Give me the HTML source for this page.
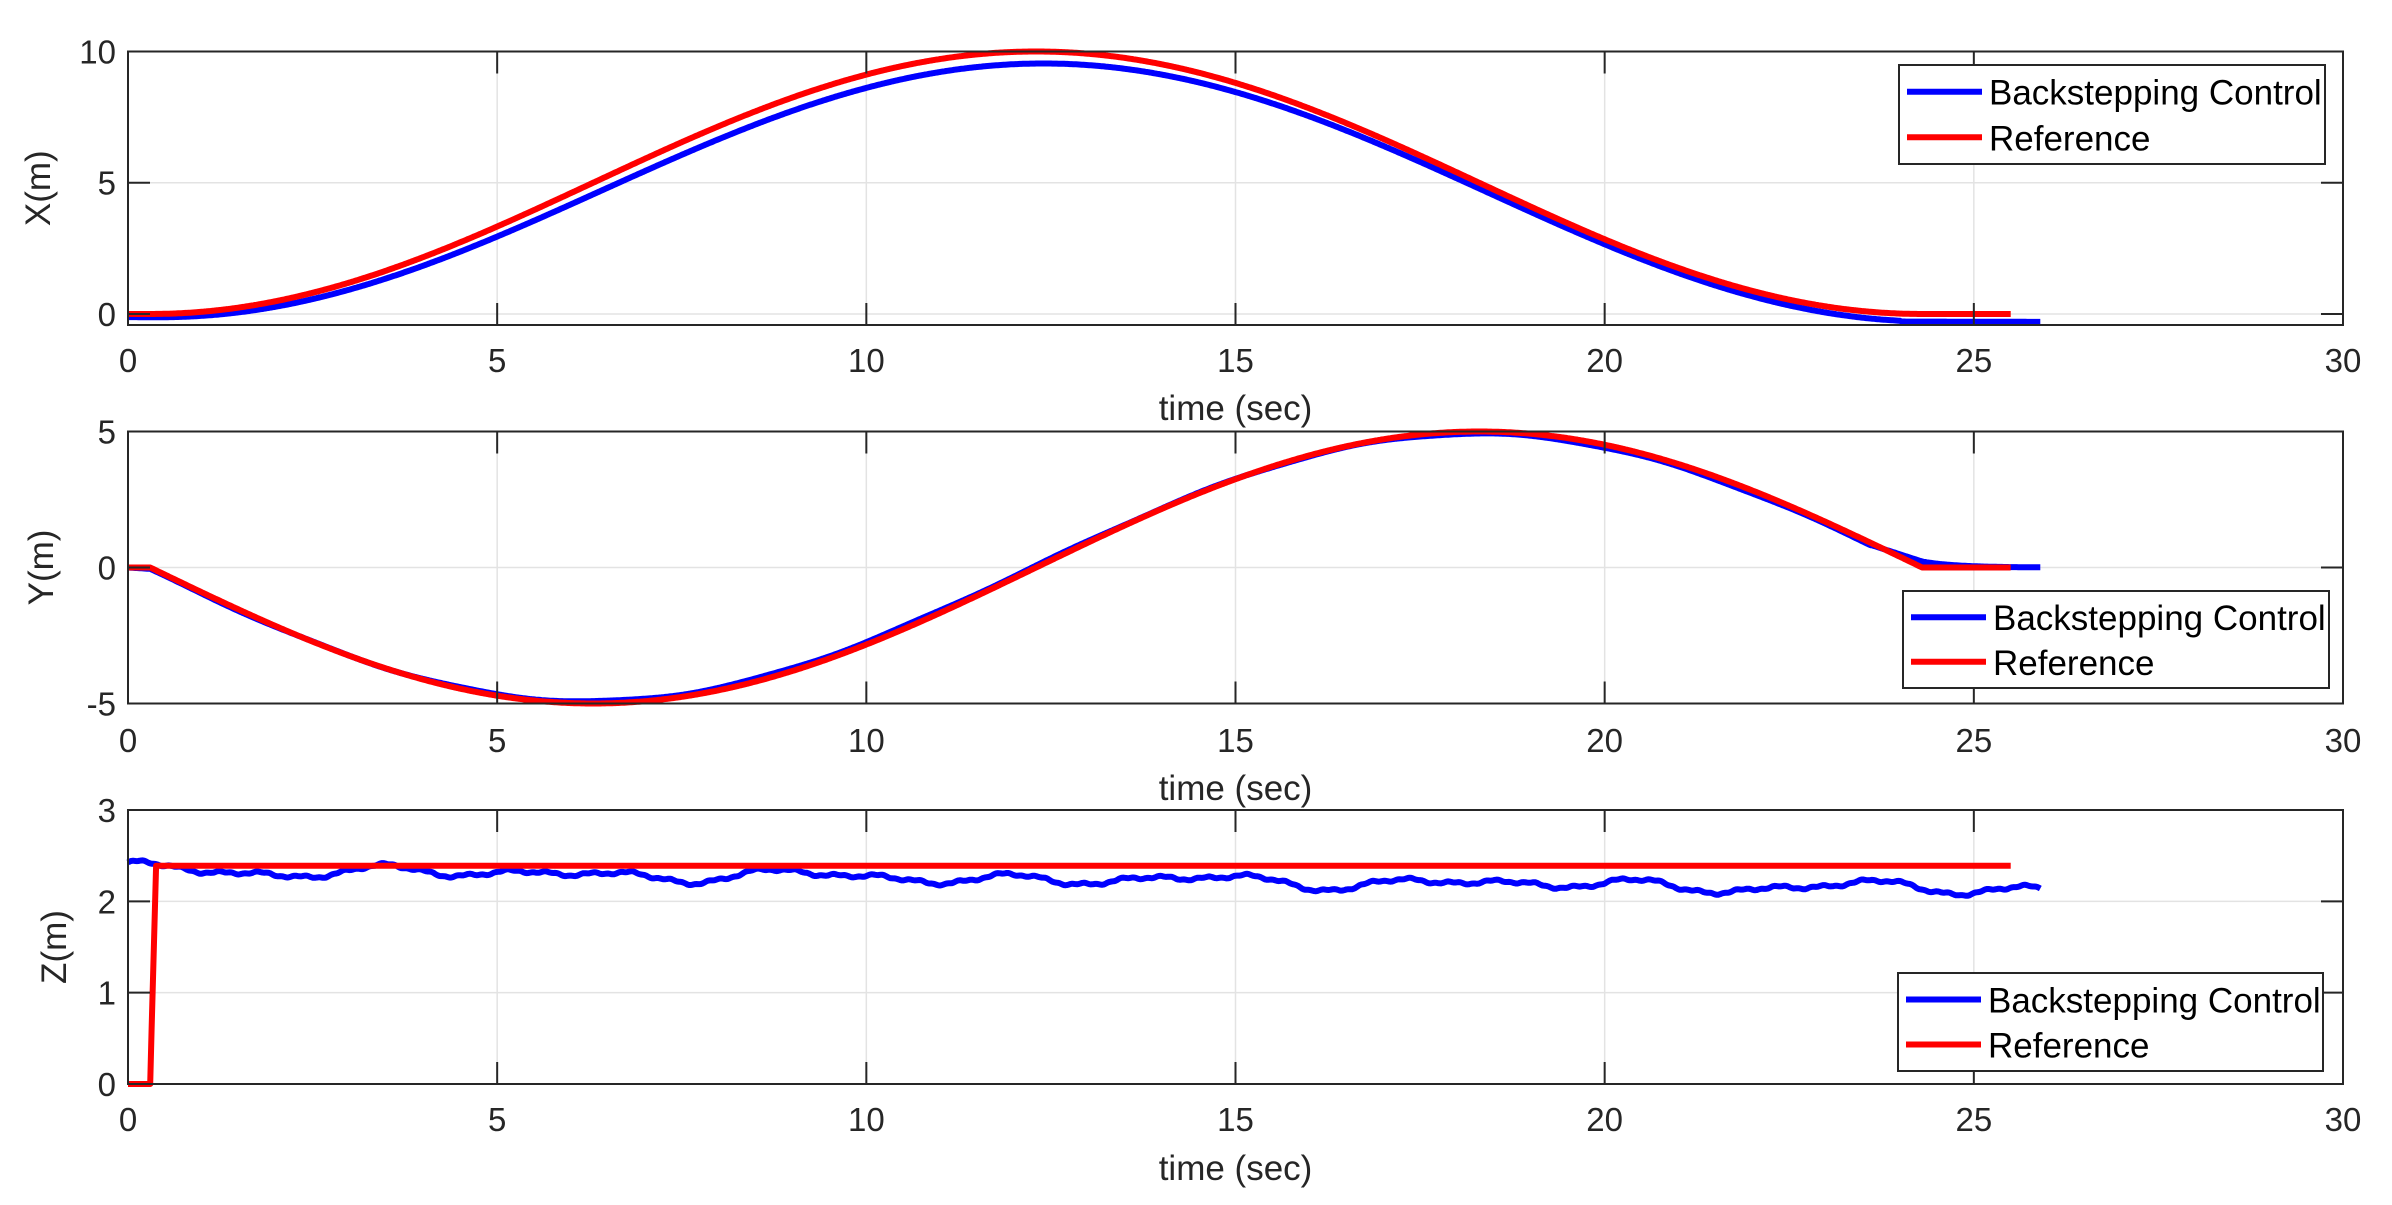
<!DOCTYPE html>
<html><head><meta charset="utf-8"><style>
html,body{margin:0;padding:0;background:#fff;}
svg{display:block;font-family:"Liberation Sans",Arial,sans-serif;}
</style></head><body>
<svg id="s" width="2392" height="1205" viewBox="0 0 2392 1205" xmlns="http://www.w3.org/2000/svg">
<rect width="2392" height="1205" fill="#fff"/>
</svg>
<script>
var S=document.getElementById('s'),NS='http://www.w3.org/2000/svg';
function el(t,a,txt){var e=document.createElementNS(NS,t);for(var k in a)e.setAttribute(k,a[k]);if(txt!=null)e.textContent=txt;S.appendChild(e);return e;}
var X0=128,X1=2343;function px(t){return X0+t*(X1-X0)/30;}
var W=2*Math.PI/24;
function xr(t){if(t<0.3||t>24.3)return 0;return 5*(1-Math.cos(W*(t-0.3)));}
function yr(t){if(t<0.3||t>24.3)return 0;return -5*Math.sin(W*(t-0.3));}
function zr(t){return t<0.3?0:(t<0.38?2.39*(t-0.3)/0.08:2.39);}
function xb(t){var v=0.975*xr(t-0.12)-0.12-0.007*t; if(t>24)v=Math.min(v,-0.12-0.007*t);return v;}
function yb(t){if(t<0.3)return -0.05*t/0.3; if(t<23.6)return 0.985*yr(t+0.05)+0.02*Math.sin(t*3.1);
 if(t<24.3){var a=0.985*yr(23.65),f=(t-23.6)/0.7;return a*(1-f)+0.22*f;} var d=t-24.3;return 0.22*Math.exp(-d*2.2);}
function zb(t){return 2.35-0.0085*t+0.04*Math.sin(t*2.2+0.5)+0.035*Math.sin(t*3.7+1.3)+0.025*Math.sin(t*1.3+2)+0.015*Math.sin(t*11.3)+0.006*Math.sin(t*37);}
var panels=[
 {top:51.5,bot:325,ymin:-0.42,ymax:10,ticks:[0,5,10],lab:'X(m)',labx:50,xt:[0,5,10,15,20,25,30],tly:372,xly:420,fr:xr,fb:xb,leg:[1899,65,2325,164]},
 {top:431.5,bot:703.5,ymin:-5,ymax:5,ticks:[-5,0,5],lab:'Y(m)',labx:53,xt:[0,5,10,15,20,25,30],tly:752,xly:800,fr:yr,fb:yb,leg:[1903,591,2329,688]},
 {top:810,bot:1084,ymin:0,ymax:3,ticks:[0,1,2,3],lab:'Z(m)',labx:66,xt:[0,5,10,15,20,25,30],tly:1131,xly:1180,fr:zr,fb:zb,leg:[1898,973,2323,1071]}
];
panels.forEach(function(p){
 function py(v){return p.bot-(v-p.ymin)*(p.bot-p.top)/(p.ymax-p.ymin);}
 p.xt.forEach(function(t){var x=px(t);el('line',{x1:x,x2:x,y1:p.top,y2:p.bot,stroke:'#e3e3e3','stroke-width':1.5});});
 p.ticks.forEach(function(v){var y=py(v);el('line',{x1:X0,x2:X1,y1:y,y2:y,stroke:'#e3e3e3','stroke-width':1.5});});
 var dr='',db='';
 for(var t=0;t<=25.5;t+=0.02){dr+=(dr?'L':'M')+px(t).toFixed(1)+','+py(p.fr(t)).toFixed(1);}
 for(var t=0;t<=25.9;t+=0.02){db+=(db?'L':'M')+px(t).toFixed(1)+','+py(p.fb(t)).toFixed(1);}
 el('path',{d:db,fill:'none',stroke:'#0000ff','stroke-width':6,'stroke-linejoin':'round'});
 el('path',{d:dr,fill:'none',stroke:'#ff0000','stroke-width':6,'stroke-linejoin':'round'});
 el('rect',{x:X0,y:p.top,width:X1-X0,height:p.bot-p.top,fill:'none',stroke:'#262626','stroke-width':2});
 p.xt.forEach(function(t){var x=px(t);
  el('line',{x1:x,x2:x,y1:p.bot,y2:p.bot-22,stroke:'#262626','stroke-width':2});
  el('line',{x1:x,x2:x,y1:p.top,y2:p.top+22,stroke:'#262626','stroke-width':2});
  el('text',{x:x,y:p.tly,'font-size':33,'text-anchor':'middle',fill:'#262626'},String(t));});
 p.ticks.forEach(function(v){var y=py(v);
  el('line',{x1:X0,x2:X0+22,y1:y,y2:y,stroke:'#262626','stroke-width':2});
  el('line',{x1:X1,x2:X1-22,y1:y,y2:y,stroke:'#262626','stroke-width':2});
  el('text',{x:X0-12,y:y+12,'font-size':33,'text-anchor':'end',fill:'#262626'},String(v));});
 el('text',{x:(X0+X1)/2,y:p.xly,'font-size':35,'text-anchor':'middle',fill:'#262626'},'time (sec)');
 var cy=(p.top+p.bot)/2;
 el('text',{x:p.labx,y:cy,'font-size':35,'text-anchor':'middle',fill:'#262626',transform:'rotate(-90 '+p.labx+' '+cy+')'},p.lab);
 var L=p.leg;
 el('rect',{x:L[0],y:L[1],width:L[2]-L[0],height:L[3]-L[1],fill:'#fff',stroke:'#262626','stroke-width':2});
 var r1=L[1]+(L[3]-L[1])*0.27,r2=L[1]+(L[3]-L[1])*0.73;
 el('line',{x1:L[0]+8,x2:L[0]+83,y1:r1,y2:r1,stroke:'#0000ff','stroke-width':6});
 el('line',{x1:L[0]+8,x2:L[0]+83,y1:r2,y2:r2,stroke:'#ff0000','stroke-width':6});
 el('text',{x:L[0]+90,y:r1+13,'font-size':35,fill:'#000'},'Backstepping Control');
 el('text',{x:L[0]+90,y:r2+13,'font-size':35,fill:'#000'},'Reference');
});
</script>
</body></html>
